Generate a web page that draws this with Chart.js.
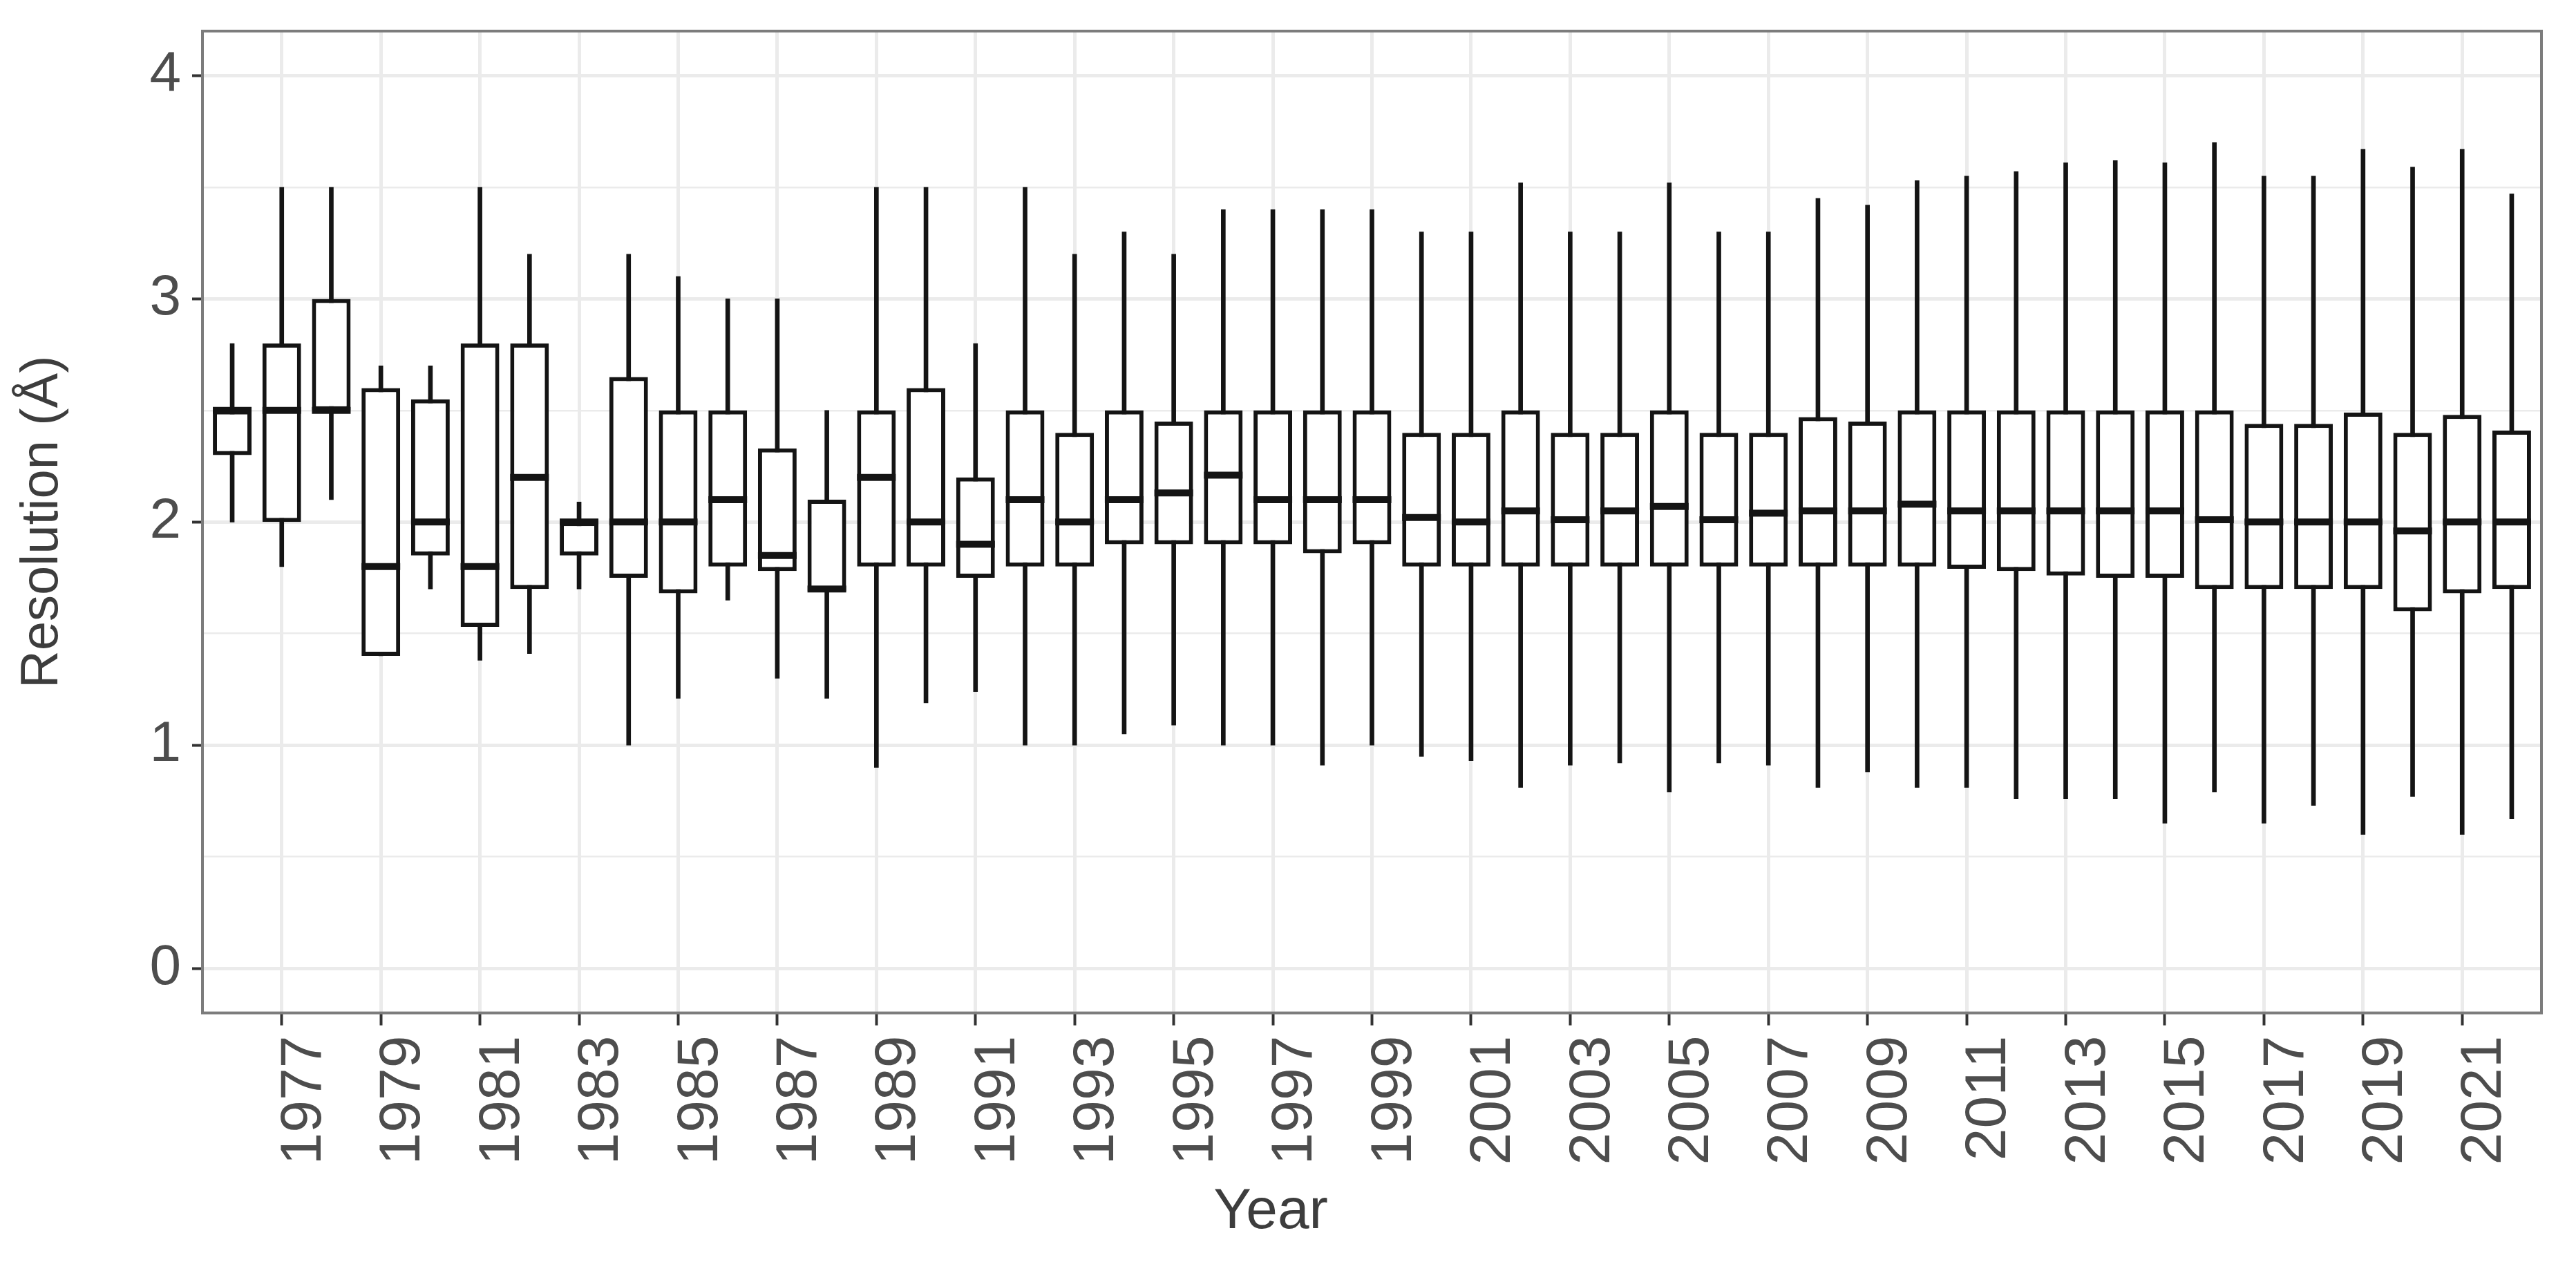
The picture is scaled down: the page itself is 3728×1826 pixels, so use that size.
<!DOCTYPE html>
<html>
<head>
<meta charset="utf-8">
<script src="https://cdn.jsdelivr.net/npm/chart.js@4.4.1/dist/chart.umd.min.js"></script>
<style>
  html, body { margin: 0; padding: 0; background: #fff; }
  canvas { display: block; }
</style>
</head>
<body>
<canvas id="chart" width="3728" height="1826"></canvas>
<script>
// values, one entry per year
const years = [1976, 1977, 1978, 1979, 1980, 1981, 1982, 1983, 1984, 1985, 1986, 1987,
  1988, 1989, 1990, 1991, 1992, 1993, 1994, 1995, 1996, 1997, 1998, 1999, 2000, 2001,
  2002, 2003, 2004, 2005, 2006, 2007, 2008, 2009, 2010, 2011, 2012, 2013, 2014, 2015,
  2016, 2017, 2018, 2019, 2020, 2021, 2022];
const whiskerLow = [2.00, 1.80, 2.10, 1.40, 1.70, 1.38, 1.41, 1.70, 1.00, 1.21, 1.65, 1.30,
  1.21, 0.90, 1.19, 1.24, 1.00, 1.00, 1.05, 1.09, 1.00, 1.00, 0.91, 1.00, 0.95, 0.93,
  0.81, 0.91, 0.92, 0.79, 0.92, 0.91, 0.81, 0.88, 0.81, 0.81, 0.76, 0.76, 0.76, 0.65,
  0.79, 0.65, 0.73, 0.60, 0.77, 0.60, 0.67];
const boxLow = [2.30, 2.00, 2.50, 1.40, 1.85, 1.53, 1.70, 1.85, 1.75, 1.68, 1.80, 1.78,
  1.69, 1.80, 1.80, 1.75, 1.80, 1.80, 1.90, 1.90, 1.90, 1.90, 1.86, 1.90, 1.80, 1.80,
  1.80, 1.80, 1.80, 1.80, 1.80, 1.80, 1.80, 1.80, 1.80, 1.79, 1.78, 1.76, 1.75, 1.75,
  1.70, 1.70, 1.70, 1.70, 1.60, 1.68, 1.70];
const medians = [2.50, 2.50, 2.50, 1.80, 2.00, 1.80, 2.20, 2.00, 2.00, 2.00, 2.10, 1.85,
  1.70, 2.20, 2.00, 1.90, 2.10, 2.00, 2.10, 2.13, 2.21, 2.10, 2.10, 2.10, 2.02, 2.00,
  2.05, 2.01, 2.05, 2.07, 2.01, 2.04, 2.05, 2.05, 2.08, 2.05, 2.05, 2.05, 2.05, 2.05,
  2.01, 2.00, 2.00, 2.00, 1.96, 2.00, 2.00];
const boxHigh = [2.50, 2.80, 3.00, 2.60, 2.55, 2.80, 2.80, 2.00, 2.65, 2.50, 2.50, 2.33,
  2.10, 2.50, 2.60, 2.20, 2.50, 2.40, 2.50, 2.45, 2.50, 2.50, 2.50, 2.50, 2.40, 2.40,
  2.50, 2.40, 2.40, 2.50, 2.40, 2.40, 2.47, 2.45, 2.50, 2.50, 2.50, 2.50, 2.50, 2.50,
  2.50, 2.44, 2.44, 2.49, 2.40, 2.48, 2.41];
const whiskerHigh = [2.80, 3.50, 3.50, 2.70, 2.70, 3.50, 3.20, 2.09, 3.20, 3.10, 3.00, 3.00,
  2.50, 3.50, 3.50, 2.80, 3.50, 3.20, 3.30, 3.20, 3.40, 3.40, 3.40, 3.40, 3.30, 3.30,
  3.52, 3.30, 3.30, 3.52, 3.30, 3.30, 3.45, 3.42, 3.53, 3.55, 3.57, 3.61, 3.62, 3.61,
  3.70, 3.55, 3.55, 3.67, 3.59, 3.67, 3.47];

// axis ticks
const yearTicks = [1977, 1979, 1981, 1983, 1985, 1987, 1989, 1991, 1993, 1995, 1997, 1999,
  2001, 2003, 2005, 2007, 2009, 2011, 2013, 2015, 2017, 2019, 2021];
const resolutionTicks = [0, 0.5, 1, 1.5, 2, 2.5, 3, 3.5, 4];

const INK = "#141414";
const isMajor = (c) => c.tick && Number.isInteger(c.tick.value);

Chart.defaults.font.family = "'Liberation Sans', Arial, sans-serif";

// grey frame round the plotting panel
const panelBorder = {
  id: "panelBorder",
  afterDraw(chart) {
    const { ctx, chartArea } = chart;
    ctx.save();
    ctx.strokeStyle = "#7c7c7c";
    ctx.lineWidth = 4;
    ctx.strokeRect(chartArea.left, chartArea.top,
      chartArea.right - chartArea.left, chartArea.bottom - chartArea.top);
    ctx.restore();
  },
};

const ctx = document.getElementById("chart").getContext("2d");
new Chart(ctx, {
  type: "bar",
  data: {
    datasets: [
      {
        // median line
        type: "line",
        data: years.map((y, i) => ({ x: y, y: medians[i] })),
        showLine: false,
        pointStyle: "line",
        pointRadius: 28,
        pointHoverRadius: 28,
        pointBorderWidth: 10,
        pointHoverBorderWidth: 10,
        pointBorderColor: INK,
        order: 1,
      },
      {
        // box q1..q3
        type: "bar",
        data: years.map((y, i) => ({ x: y, y: [boxLow[i], boxHigh[i]] })),
        backgroundColor: "#ffffff",
        borderColor: INK,
        borderWidth: 6,
        borderSkipped: false,
        grouped: false,
        barPercentage: 0.78,
        categoryPercentage: 1,
        order: 2,
      },
      {
        // whisker min..max
        type: "bar",
        data: years.map((y, i) => ({ x: y, y: [whiskerLow[i], whiskerHigh[i]] })),
        backgroundColor: INK,
        borderWidth: 0,
        grouped: false,
        barThickness: 6,
        order: 3,
      },
    ],
  },
  options: {
    responsive: false,
    animation: false,
    events: [],
    layout: { padding: { top: 45, right: 50, left: 0, bottom: 0 } },
    plugins: {
      legend: { display: false },
      tooltip: { enabled: false },
      title: {
        display: true,
        position: "bottom",
        text: "Year",
        color: "#3d3d3d",
        font: { size: 82, weight: "normal" },
        padding: { top: 10, bottom: 22 },
      },
    },
    scales: {
      x: {
        type: "linear",
        min: 1975.4,
        max: 2022.6,
        offset: false,
        afterBuildTicks: (axis) => {
          axis.ticks = yearTicks.map((v) => ({ value: v }));
        },
        afterFit: (axis) => {
          axis.height = 230;
          axis.paddingLeft = 0;
          axis.paddingRight = 0;
        },
        grid: {
          color: "#ebebeb",
          lineWidth: 5,
          offset: false,
          tickColor: "#333333",
          tickWidth: 4,
          tickLength: 18,
        },
        border: { display: false },
        ticks: {
          autoSkip: false,
          minRotation: 90,
          maxRotation: 90,
          padding: 15,
          labelOffset: 33,
          color: "#4d4d4d",
          font: { size: 84 },
          callback: (v) => String(v),
        },
      },
      y: {
        min: -0.2,
        max: 4.2,
        afterBuildTicks: (axis) => {
          axis.ticks = resolutionTicks.map((v) => ({ value: v }));
        },
        afterFit: (axis) => {
          axis.width = 293;
          axis.paddingTop = 0;
          axis.paddingBottom = 0;
        },
        grid: {
          color: "#ebebeb",
          lineWidth: (c) => (isMajor(c) ? 5 : 2.5),
          tickColor: (c) => (isMajor(c) ? "#333333" : "rgba(0,0,0,0)"),
          tickWidth: 4,
          tickLength: 15,
        },
        border: { display: false },
        ticks: {
          padding: 16,
          color: "#4d4d4d",
          font: { size: 82 },
          callback: (v) => (Number.isInteger(v) ? v : ""),
        },
        title: {
          display: true,
          text: "Resolution (Å)",
          color: "#3d3d3d",
          font: { size: 76 },
          padding: { top: 16, bottom: 0 },
        },
      },
    },
  },
  plugins: [panelBorder],
});
</script>
</body>
</html>
